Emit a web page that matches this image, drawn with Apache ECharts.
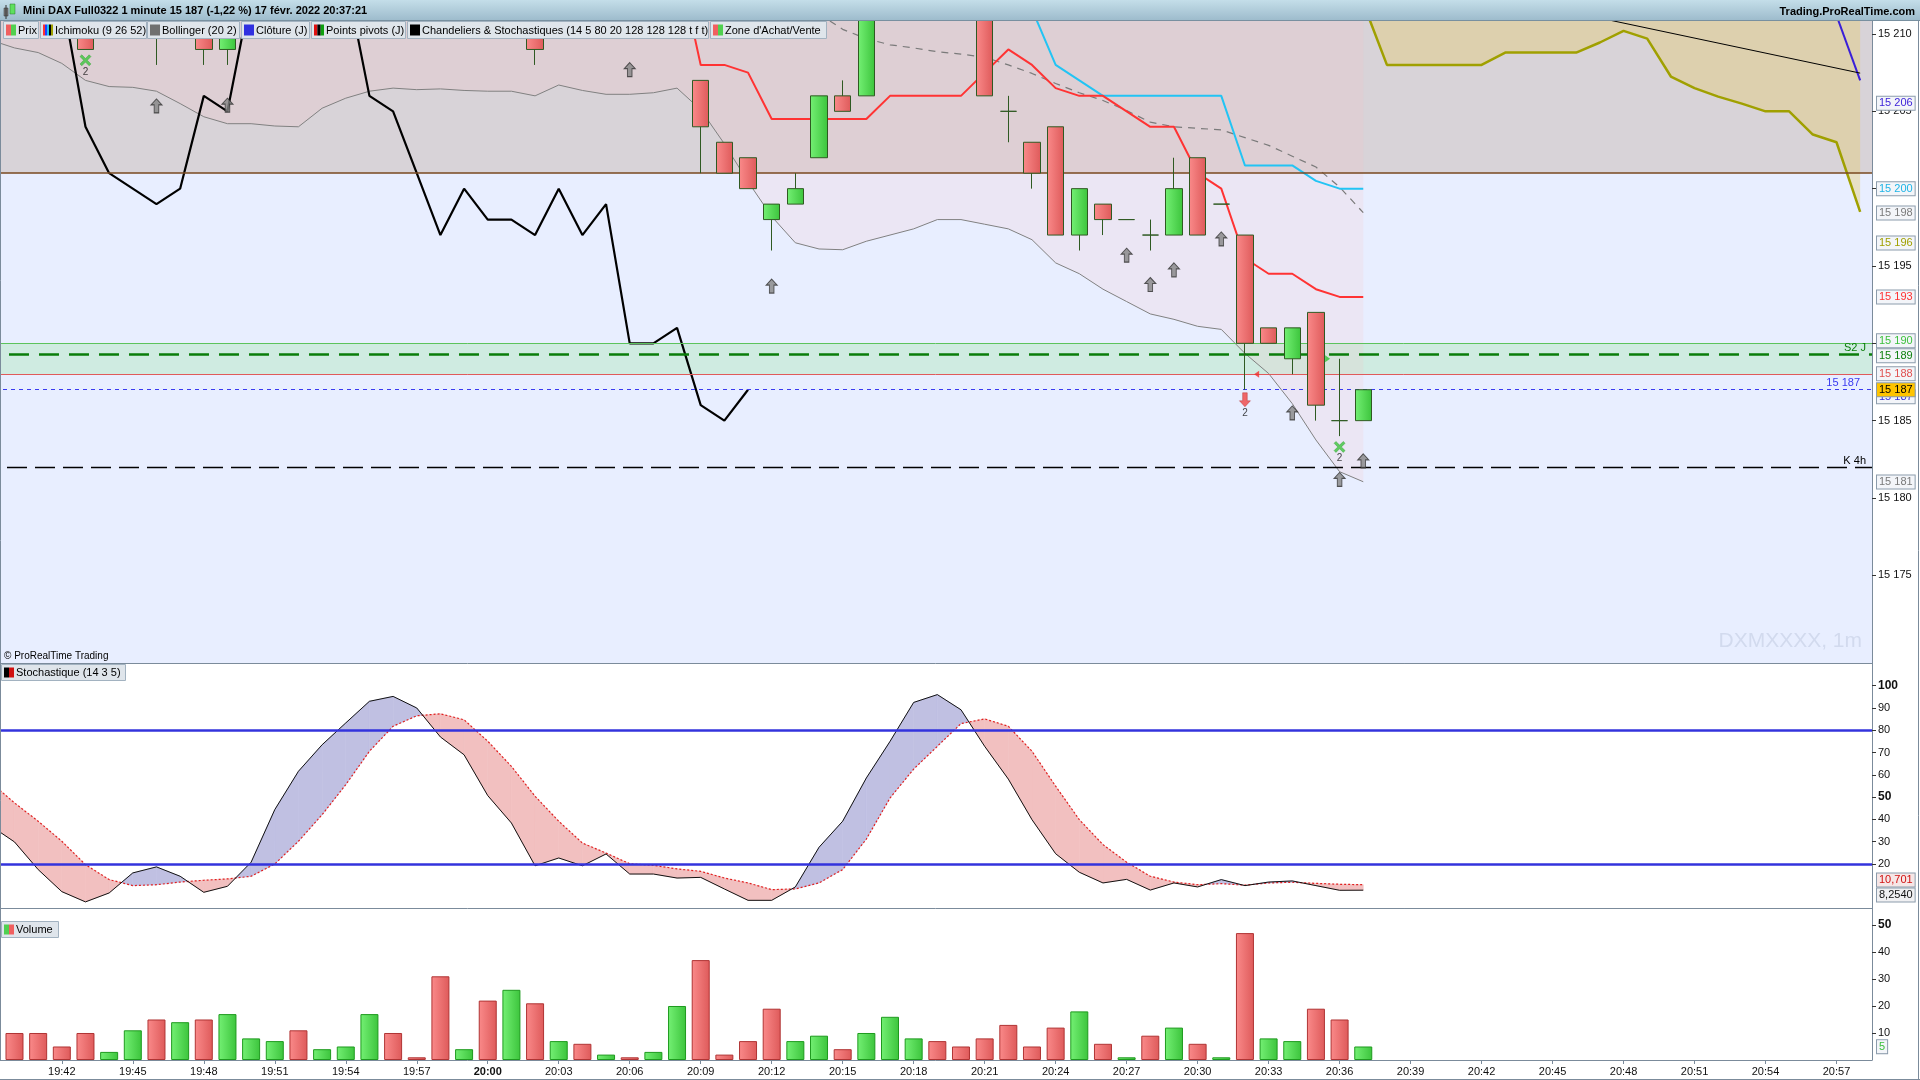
<!DOCTYPE html>
<html><head><meta charset="utf-8">
<script src="https://cdn.jsdelivr.net/npm/echarts@6/dist/echarts.min.js"></script>
<style>html,body{margin:0;padding:0;background:#fff;}#c{width:1920px;height:1080px;}</style>
</head><body><div id="c"></div>
<script>
// ---------- DATA ----------
const categories = ["19:39","19:40","19:41","19:42","19:43","19:44","19:45","19:46","19:47","19:48","19:49","19:50","19:51","19:52","19:53","19:54","19:55","19:56","19:57","19:58","19:59",
"20:00","20:01","20:02","20:03","20:04","20:05","20:06","20:07","20:08","20:09","20:10","20:11","20:12","20:13","20:14","20:15","20:16","20:17","20:18","20:19",
"20:20","20:21","20:22","20:23","20:24","20:25","20:26","20:27","20:28","20:29","20:30","20:31","20:32","20:33","20:34","20:35","20:36","20:37","20:38","20:39",
"20:40","20:41","20:42","20:43","20:44","20:45","20:46","20:47","20:48","20:49","20:50","20:51","20:52","20:53","20:54","20:55","20:56","20:57","20:58"];

// candles from 19:40
const candleStart = "19:40";
const candleOpen  = [15216,15214,15214,15213,15212,15213,15214,15212,15213,15209,15214,15216,15218,15215,15216,15217,15220,15218,15217,15212,15215,15212,15216,15212,15213,15212,15213,15212,15213,15207,15203,15202,15198,15199,15202,15206,15206,15213,15215,15216,15214,15213,15205,15203,15204,15197,15199,15198,15197,15197,15202,15199,15197,15191,15189,15192,15185,15185];
const candleClose = [15214,15212,15212,15209,15213,15215,15212,15214,15209,15214,15216,15218,15215,15216,15217,15220,15218,15217,15212,15213,15212,15216,15209,15213,15212,15213,15212,15213,15215,15204,15201,15200,15199,15200,15206,15205,15213,15215,15216,15214,15213,15206,15205,15201,15197,15200,15198,15198,15197,15200,15197,15199,15190,15190,15191,15186,15185,15187];
const candleLow   = [15213,15212,15212,15209,15212,15212,15208,15212,15208,15208,15213,15215,15214,15214,15215,15216,15217,15216,15212,15212,15212,15212,15208,15212,15212,15212,15212,15212,15212,15201,15201,15200,15196,15199,15202,15205,15206,15212,15214,15213,15212,15206,15203,15200,15197,15196,15197,15198,15196,15197,15197,15199,15187,15190,15188,15185,15184,15185];
const candleHigh  = [15217,15215,15214,15214,15214,15216,15215,15215,15214,15215,15217,15219,15219,15217,15218,15221,15221,15219,15218,15214,15216,15217,15217,15214,15214,15213,15213,15214,15216,15207,15203,15202,15199,15201,15206,15207,15214,15216,15217,15217,15215,15214,15206,15203,15204,15200,15199,15198,15198,15202,15202,15199,15197,15191,15191,15192,15189,15187];

const volumeStart = "19:40";
const volumes = [10,10,5,10,3,11,15,14,15,17,8,7,11,4,5,17,10,1,31,4,22,26,21,7,6,2,1,3,20,37,2,7,19,7,9,4,10,16,8,7,5,8,13,5,12,18,6,1,9,12,6,1,47,8,7,19,15,5];
const volumeDir = ['d','d','d','d','u','u','d','u','d','u','u','u','d','u','u','u','d','d','d','u','d','u','d','u','d','u','d','u','u','d','d','d','d','u','u','d','u','u','u','d','d','d','d','d','d','u','d','u','d','u','d','u','d','u','u','d','d','u'];

const chandelierStart = "19:42";
const chandelier = [15212.5,15204,15201,15200,15199,15200,15206,15205,15212.8,15215,15216,15215,15213.7,15206,15205,15201,15197,15200,15198,15198,15197,15200,15197,15199,15190,15190,15191,15186,15185,15187];

const tenkanStart = "20:08";
const tenkanRed = [15215,15208,15208,15207.5,15204.5,15204.5,15204.5,15204.5,15204.5,15206,15206,15206,15206,15207.5,15209,15208,15206.5,15206,15206,15205,15204,15204,15201,15200,15195.5,15194.5,15194.5,15193.5,15193,15193];

const kijunStart = "20:23";
const kijunCyan = [15211.6,15208,15207,15206,15206,15206,15206,15206,15206,15201.5,15201.5,15201.5,15200.5,15200,15200];

const bbMidStart = "20:14";
const bbMiddle = [15211.3,15210.3,15209.7,15209.3,15209.1,15208.85,15208.7,15208.5,15208.0,15207.45,15206.8,15206.2,15205.7,15205.05,15204.3,15204.0,15203.9,15203.8,15203.3,15202.8,15202.1,15201.4,15200.1,15198.45];

const bbLowStart = "19:39";
const bbLower = [15209.6,15209.1,15208.8,15208.1,15207.0,15206.6,15206.55,15206.3,15205.5,15204.65,15204.2,15204.2,15204.05,15204.0,15205.2,15205.85,15206.3,15206.5,15206.4,15206.45,15206.35,15206.3,15206.3,15206.0,15206.7,15206.35,15206.1,15206.1,15206.2,15206.5,15205.1,15202.9,15200.45,15198.2,15196.5,15196.1,15196.05,15196.6,15197.0,15197.4,15198.0,15198.0,15197.7,15197.4,15196.7,15195.2,15194.5,15193.5,15192.7,15191.9,15191.55,15191.1,15190.9,15189.35,15188.05,15186.1,15183.75,15181.7,15181.05];

const senkouStart = "20:37";
const senkouOlive = [15212,15208,15208,15208,15208,15208,15208.8,15208.8,15208.8,15208.8,15209.45,15210.2,15209.7,15207.25,15206.5,15205.95,15205.5,15205.0,15205.0,15203.5,15203.0,15198.5];

const closeJStart = "20:57";
const closeJ = [15211.2,15207.0];

const trendStart = "20:47";
const trendLine = [15211.03,null,null,null,null,null,null,null,null,null,null,15207.47];

const stochStart = "19:39";
const stochK = [37.1,29.9,17.5,7.6,3.0,7.0,16.0,18.7,14.5,7.3,10.0,20.8,44.4,61.6,73.5,83.3,93.0,95.2,90.0,77.0,69.0,50.7,38.4,19.2,22.7,19.2,24.5,15.5,15.5,13.7,14.0,8.8,3.7,3.7,9.7,27.5,39.2,58.6,75.0,92.5,96.0,89.2,72.8,58.1,39.9,24.6,16.3,11.5,13.1,8.3,11.5,9.7,13.0,10.3,11.9,12.4,10.3,8.2,8.25];
const stochD = [56.6,47.4,39.2,30.2,19.7,13.0,10.3,10.7,11.9,12.7,13.3,14.5,20.0,30.2,42.1,55.6,70.6,81.8,86.5,87.4,84.7,75.1,63.8,50.4,39.2,29.4,24.9,20.1,19.4,17.8,16.7,13.7,11.5,8.5,8.8,11.5,17.5,31.2,49.6,62.6,72.8,83.0,85.1,81.8,70.6,54.9,39.9,28.7,20.8,14.5,11.9,10.7,11.2,10.5,11.5,11.8,11.3,10.9,10.7];
const stochLevels = [80, 20];

const upArrows = [["19:46",15205.35],["19:49",15205.4],["20:06",15207.7],["20:12",15193.7],["20:27",15195.7],["20:28",15193.8],["20:29",15194.75],["20:31",15196.75],["20:34",15185.5],["20:36",15181.2],["20:37",15182.4]];
const buyCrosses = [["19:43",15208.3],["20:36",15183.3]];
const sellArrows = [["20:32",15186.35]];
const smallRedTri = [["20:33",15188]];
const smallGreenTri = [["20:36",15189]];

const priceMin = 15169.33, priceMax = 15210.84;
const cloudBase = 15201;
const zoneTop = 15190, zoneBottom = 15188;
const pivotS2 = 15189.3, dailyClose = 15187, k4h = 15182;

const priceTicks = [15175,15180,15185,15190,15195,15200,15205,15210];
const stochTicks = [20,30,40,50,60,70,80,90,100];
const volTicks = [10,20,30,40,50];

const priceTagValues = [15205.52,15200,15198.43,15196.49,15193.0,15190.17,15189.19,15188.03,15186.55,15181.04];
const priceTagTexts  = ["15 206","15 200","15 198","15 196","15 193","15 190","15 189","15 188","15 187","15 181"];
const lastPrice = 15186.99, lastPriceText = "15 187";
const stochTagValues = [12.82, 6.09], stochTagTexts = ["10,701","8,2540"];
const volTagValue = 4.93, volTagText = "5";

// ---------- HELPERS ----------
function place(values, start){
  const arr = new Array(categories.length).fill(null);
  const s = categories.indexOf(start);
  values.forEach((v,j)=>{ arr[s+j] = v; });
  return arr;
}
const FONT = 'Liberation Sans, Arial, sans-serif';
const fmtPrice = v => String(v).replace(/\B(?=(\d{3})+(?!\d))/g,' ');
const grad = (a,b)=>({type:'linear',x:0,y:0,x2:1,y2:0,colorStops:[{offset:0,color:a},{offset:1,color:b}]});
const RED_FILL = grad('#fa8a8a','#de5a5a'), GREEN_FILL = grad('#74f074','#3cc43c');

const cStart = categories.indexOf(candleStart);
const candleData = categories.map((c,k)=>{
  const i = k - cStart;
  if (i < 0 || i >= candleOpen.length) return '-';
  return [candleOpen[i], candleClose[i], candleLow[i], candleHigh[i]];
});
const vStart = categories.indexOf(volumeStart);
const volData = categories.map((c,k)=>{
  const i = k - vStart;
  if (i < 0 || i >= volumes.length) return null;
  const up = volumeDir[i] === 'u';
  return {value: volumes[i], itemStyle:{color: up?GREEN_FILL:RED_FILL, borderColor: up?'#1e9a1e':'#b03434', borderWidth:1}};
});
const kFull = place(stochK, stochStart), dFull = place(stochD, stochStart);
const fillData = [];
for (let k=0;k<categories.length-1;k++){
  if (kFull[k]!=null && kFull[k+1]!=null) fillData.push([k,kFull[k],dFull[k],kFull[k+1],dFull[k+1]]);
}

const tagColors = ['#3a1fd8','#1fb4e6','#7a7a7a','#a0a000','#ff3030','#3cc03c','#0e800e','#e05050','#3030e0','#7a7a7a'];
function tag(v, text, color, bg){
  return {yAxis:v, lineStyle:{color:'rgba(0,0,0,0)', width:1}, label:{show:true, position:'end', distance:5, formatter:text, color:color, fontSize:11, fontFamily:FONT,
    backgroundColor:bg||'#f3f5f9', borderColor:'#8c9cac', borderWidth:1, padding:[1,2,0,2], lineHeight:12}};
}
const nulls = new Array(categories.length).fill(null);

const upArrowPath = 'path://M6,0 L12,6 L8.5,6 L8.5,14 L3.5,14 L3.5,6 L0,6 Z';
const downArrowPath = 'path://M3.5,0 L8.5,0 L8.5,8 L12,8 L6,14 L0,8 L3.5,8 Z';
const crossPath = 'path://M2,0 L6,4 L10,0 L12,2 L8,6 L12,10 L10,12 L6,8 L2,12 L0,10 L4,6 L0,2 Z';

const labelInterval = (index, value) => index > 0 && (parseInt(value.slice(3),10) % 3 === 0);

// ---------- OPTION ----------
const gridCommon = {left:-21, right:48, show:true, borderWidth:0, outerBoundsMode:'none'};
const option = {
  animation:false,
  backgroundColor:'#ffffff',
  textStyle:{fontFamily:FONT},
  grid:[
    Object.assign({top:21, height:642, backgroundColor:'#e8eeff'}, gridCommon),
    Object.assign({top:663, height:257, backgroundColor:'#ffffff'}, gridCommon),
    Object.assign({top:920, height:140, backgroundColor:'#ffffff'}, gridCommon)
  ],
  xAxis:[0,1,2].map(g=>({
    type:'category', gridIndex:g, data:categories, boundaryGap:true,
    axisLine:{show:true, lineStyle:{color:'#7b8b9b', width:1}},
    axisTick:{show:g===2, interval:labelInterval, alignWithLabel:true, length:4, lineStyle:{color:'#7b8b9b'}},
    axisLabel:{show:g===2, interval:labelInterval, fontSize:11, color:'#111', margin:6, fontFamily:FONT,
      formatter: v => v==='20:00' ? '{b|20:00}' : v, rich:{b:{fontWeight:'bold', fontSize:11, fontFamily:FONT}}},
    splitLine:{show:false}
  })),
  yAxis:[
    {type:'value', gridIndex:0, position:'right', min:priceMin, max:priceMax, scale:true,
      axisLine:{show:true, lineStyle:{color:'#7b8b9b'}},
      axisTick:{show:true, length:4, customValues:priceTicks, lineStyle:{color:'#333'}},
      axisLabel:{show:true, customValues:priceTicks, formatter: v=>fmtPrice(v), fontSize:11, color:'#111', margin:6, fontFamily:FONT},
      splitLine:{show:false}},
    {type:'value', gridIndex:1, position:'right', min:-5.13, max:110.19,
      axisLine:{show:true, lineStyle:{color:'#7b8b9b'}},
      axisTick:{show:true, length:4, customValues:stochTicks, lineStyle:{color:'#333'}},
      axisLabel:{show:true, customValues:stochTicks, fontSize:11, color:'#111', margin:6, fontFamily:FONT,
        formatter: v => (v===100||v===50) ? '{b|'+v+'}' : String(v), rich:{b:{fontWeight:'bold', fontSize:12, fontFamily:FONT}}},
      splitLine:{show:false}},
    {type:'value', gridIndex:2, position:'right', min:0, max:51.85,
      axisLine:{show:true, lineStyle:{color:'#7b8b9b'}},
      axisTick:{show:true, length:4, customValues:volTicks, lineStyle:{color:'#333'}},
      axisLabel:{show:true, customValues:volTicks, fontSize:11, color:'#111', margin:6, fontFamily:FONT,
        formatter: v => v===50 ? '{b|50}' : String(v), rich:{b:{fontWeight:'bold', fontSize:12, fontFamily:FONT}}},
      splitLine:{show:false}}
  ],
  series:[
    // Ichimoku grey cloud
    {type:'line', name:'cloud', xAxisIndex:0, yAxisIndex:0, data:nulls, z:1, silent:true, symbol:'none',
      markArea:{silent:true, itemStyle:{color:'#d8d3d8'}, data:[[{yAxis:cloudBase},{yAxis:priceMax}]]}},
    // Bollinger fill (from lower band up)
    {type:'line', name:'bbFill', xAxisIndex:0, yAxisIndex:0, data:place(bbLower,bbLowStart), z:2, silent:true, symbol:'none',
      lineStyle:{width:0, opacity:0}, areaStyle:{origin:'end', color:'rgba(250,190,195,0.25)'}},
    // future cloud (senkou)
    {type:'line', name:'senkou', xAxisIndex:0, yAxisIndex:0, data:place(senkouOlive,senkouStart), z:3, silent:true, symbol:'none', clip:true,
      lineStyle:{width:2.5, color:'#a0a000'}, areaStyle:{origin:'end', color:'rgba(229,206,116,0.6)'}},
    // buy/sell zone
    {type:'line', name:'zone', xAxisIndex:0, yAxisIndex:0, data:nulls, z:3, silent:true, symbol:'none',
      markArea:{silent:true, itemStyle:{color:'#cfebe1'}, data:[[{yAxis:zoneBottom},{yAxis:zoneTop}]]},
      markLine:{silent:true, symbol:['none','none'], label:{show:false}, data:[
        {yAxis:zoneTop, lineStyle:{color:'#5cc35c', width:1, type:'solid'}},
        {yAxis:zoneBottom, lineStyle:{color:'#e05a5a', width:1, type:'solid'}},
        {yAxis:cloudBase, lineStyle:{color:'#7a4a20', width:1.5, type:'solid'}}
      ]}},
    // lines
    {type:'line', name:'bbLower', xAxisIndex:0, yAxisIndex:0, data:place(bbLower,bbLowStart), z:4, silent:true, symbol:'none', clip:true,
      lineStyle:{width:1, color:'#808080'}},
    {type:'line', name:'bbMiddle', xAxisIndex:0, yAxisIndex:0, data:place(bbMiddle,bbMidStart), z:4, silent:true, symbol:'none', clip:true,
      lineStyle:{width:1.2, color:'#7a7a7a', type:[7,6]}},
    {type:'line', name:'kijun', xAxisIndex:0, yAxisIndex:0, data:place(kijunCyan,kijunStart), z:4, silent:true, symbol:'none', clip:true,
      lineStyle:{width:2, color:'#22c4f4'}},
    {type:'line', name:'tenkan', xAxisIndex:0, yAxisIndex:0, data:place(tenkanRed,tenkanStart), z:4, silent:true, symbol:'none', clip:true,
      lineStyle:{width:2, color:'#ff3333'}},
    {type:'line', name:'chandelier', xAxisIndex:0, yAxisIndex:0, data:place(chandelier,chandelierStart), z:4, silent:true, symbol:'none', clip:true,
      lineStyle:{width:2.2, color:'#000'}},
    {type:'line', name:'closeJ', xAxisIndex:0, yAxisIndex:0, data:place(closeJ,closeJStart), z:4, silent:true, symbol:'none', clip:true,
      lineStyle:{width:2, color:'#3a1fd8'}},
    {type:'line', name:'trend', xAxisIndex:0, yAxisIndex:0, data:place(trendLine,trendStart), z:4, silent:true, symbol:'none', clip:true, connectNulls:true,
      lineStyle:{width:1, color:'#000'}},
    // candles
    {type:'candlestick', name:'Prix', xAxisIndex:0, yAxisIndex:0, data:candleData, z:5, silent:true, clip:true, barWidth:17,
      itemStyle:{color:GREEN_FILL, color0:RED_FILL, borderColor:'#2f5a22', borderColor0:'#2f5a22', borderColorDoji:'#2f5a22', borderWidth:1},
      markLine:{silent:true, symbol:['none','none'], data:[ tag(priceTagValues[8], priceTagTexts[8], tagColors[8]) ]}},
    // level lines above candles
    {type:'line', name:'levels', xAxisIndex:0, yAxisIndex:0, data:nulls, z:6, silent:true, symbol:'none',
      markLine:{silent:true, symbol:['none','none'], data:[
        {yAxis:pivotS2, lineStyle:{color:'#0a7d0a', width:2.5, type:[20,10]},
          label:{show:true, position:'insideEndTop', formatter:'S2 J', color:'#0a7d0a', fontSize:11, fontFamily:FONT, distance:[6,1]}},
        {yAxis:dailyClose, lineStyle:{color:'#3a3af0', width:1, type:[4,4]},
          label:{show:true, position:'insideEndTop', formatter:'15 187', color:'#3a3af0', fontSize:11, fontFamily:FONT, distance:[12,1]}},
        {yAxis:k4h, lineStyle:{color:'#000', width:1.3, type:[20,8]},
          label:{show:true, position:'insideEndTop', formatter:'K 4h', color:'#000', fontSize:11, fontFamily:FONT, distance:[6,1]}}
      ]}},
    // markers
    {type:'scatter', name:'up', xAxisIndex:0, yAxisIndex:0, data:upArrows, z:7, silent:true, symbol:upArrowPath, symbolSize:[11,14],
      itemStyle:{color:'#858585', borderColor:'#333', borderWidth:1}},
    {type:'scatter', name:'buy', xAxisIndex:0, yAxisIndex:0, data:buyCrosses, z:7, silent:true, symbol:crossPath, symbolSize:[11,11],
      itemStyle:{color:'#3cc43c', borderColor:'#2a9a2a', borderWidth:0.5},
      label:{show:true, position:'bottom', distance:1, formatter:'2', color:'#111', fontSize:10, fontFamily:FONT}},
    {type:'scatter', name:'sell', xAxisIndex:0, yAxisIndex:0, data:sellArrows, z:7, silent:true, symbol:downArrowPath, symbolSize:[11,14],
      itemStyle:{color:'#f04444', borderColor:'#b02020', borderWidth:0.5},
      label:{show:true, position:'bottom', distance:1, formatter:'2', color:'#111', fontSize:10, fontFamily:FONT}},
    {type:'scatter', name:'triR', xAxisIndex:0, yAxisIndex:0, data:smallRedTri, z:7, silent:true, symbol:'triangle', symbolRotate:90, symbolSize:[7,5], symbolOffset:[-12,0],
      itemStyle:{color:'#f03030'}},
    {type:'scatter', name:'triG', xAxisIndex:0, yAxisIndex:0, data:smallGreenTri, z:7, silent:true, symbol:'triangle', symbolRotate:-90, symbolSize:[7,5], symbolOffset:[-12,0],
      itemStyle:{color:'#30c030'},
      markLine:{silent:true, symbol:['none','none'], data: priceTagValues.map((v,j)=> j===8 ? null : tag(v, priceTagTexts[j], tagColors[j])).filter(Boolean)
        .concat([tag(lastPrice, lastPriceText, '#000', '#ffc400')])}},
    // stochastic fill
    {type:'custom', name:'stochFill', xAxisIndex:1, yAxisIndex:1, data:fillData, z:1, silent:true, clip:true,
      encode:{x:0, y:[1,2]},
      renderItem:function(params, api){
        const k = api.value(0);
        const k1=api.value(1), d1v=api.value(2), k2=api.value(3), d2v=api.value(4);
        const a1 = api.coord([k, k1]), b1 = api.coord([k, d1v]);
        const a2 = api.coord([k+1, k2]), b2 = api.coord([k+1, d2v]);
        const d1 = k1-d1v, d2 = k2-d2v;
        const blue='#c0c0e2', pink='#f2c0c0';
        const ch=[];
        if (d1*d2 >= 0){
          const c = (d1+d2)>=0 ? blue : pink;
          ch.push({type:'polygon', shape:{points:[a1,a2,b2,b1]}, style:{fill:c, stroke:c, lineWidth:0.6}});
        } else {
          const t = d1/(d1-d2);
          const p = [a1[0]+t*(a2[0]-a1[0]), a1[1]+t*(a2[1]-a1[1])];
          const c1 = d1>0?blue:pink, c2 = d2>0?blue:pink;
          ch.push({type:'polygon', shape:{points:[a1,p,b1]}, style:{fill:c1, stroke:c1, lineWidth:0.6}});
          ch.push({type:'polygon', shape:{points:[p,a2,b2]}, style:{fill:c2, stroke:c2, lineWidth:0.6}});
        }
        return {type:'group', children:ch};
      }},
    {type:'line', name:'%D', xAxisIndex:1, yAxisIndex:1, data:dFull, z:3, silent:true, symbol:'none',
      lineStyle:{width:1.2, color:'#e02020', type:[2,2]}},
    {type:'line', name:'%K', xAxisIndex:1, yAxisIndex:1, data:kFull, z:4, silent:true, symbol:'none',
      lineStyle:{width:1, color:'#111'},
      markLine:{silent:true, symbol:['none','none'], data:[
        {yAxis:stochLevels[0], lineStyle:{color:'#3333dd', width:2.5, type:'solid'}, label:{show:false}},
        {yAxis:stochLevels[1], lineStyle:{color:'#3333dd', width:2.5, type:'solid'}, label:{show:false}},
        tag(stochTagValues[0], stochTagTexts[0], '#d01010', '#f6e6e6'),
        tag(stochTagValues[1], stochTagTexts[1], '#111', '#f0f0f2')
      ]}},
    // volume
    {type:'bar', name:'Volume', xAxisIndex:2, yAxisIndex:2, data:volData, barWidth:18, z:2, silent:true,
      markLine:{silent:true, symbol:['none','none'], data:[ tag(volTagValue, volTagText, '#3cc03c', '#f3f5f9') ]}}
  ],
  graphic:[]
};

// ---------- CHROME (title, legends) ----------
const G = [];
G.push({type:'rect', z:100, shape:{x:0,y:0,width:1920,height:21}, style:{fill:{type:'linear',x:0,y:0,x2:0,y2:1,colorStops:[{offset:0,color:'#c4dee9'},{offset:1,color:'#9cbacb'}]}}});
G.push({type:'line', z:100, shape:{x1:0,y1:20.5,x2:1920,y2:20.5}, style:{stroke:'#7890a0', lineWidth:1}});
G.push({type:'rect', z:101, shape:{x:4,y:8,width:4,height:8}, style:{fill:'#7a7a7a', stroke:'#333', lineWidth:0.5}});
G.push({type:'line', z:101, shape:{x1:6,y1:5,x2:6,y2:19}, style:{stroke:'#333', lineWidth:1}});
G.push({type:'rect', z:101, shape:{x:10,y:4,width:5,height:10}, style:{fill:'#5ee05e', stroke:'#2a7a2a', lineWidth:0.5}});
G.push({type:'text', z:101, x:23, y:11, style:{text:'Mini DAX Full0322 1 minute 15 187 (-1,22 %) 17 févr. 2022 20:37:21', font:'bold 11px '+FONT, fill:'#000', verticalAlign:'middle'}});
G.push({type:'text', z:101, x:1915, y:12, style:{text:'Trading.ProRealTime.com', font:'bold 11px '+FONT, fill:'#000', align:'right', verticalAlign:'middle'}});

const legendItems = [
  {x:3,w:35,t:'Prix',icon:['#f06060','#50d050']},
  {x:40,w:106,t:'Ichimoku (9 26 52)',icon:['#ff3030','#2040ff','#20c0f0','#000','#a0a000']},
  {x:147,w:92,t:'Bollinger (20 2)',icon:['#707070']},
  {x:241,w:68,t:'Clôture (J)',icon:['#3030e0']},
  {x:311,w:94,t:'Points pivots (J)',icon:['#e01010','#000','#10a010']},
  {x:407,w:301,t:"Chandeliers & Stochastiques (14 5 80 20 128 128 128 t f t)",icon:['#000']},
  {x:710,w:116,t:"Zone d'Achat/Vente",icon:['#f06060','#50d050']}
];
function legendBox(item, y, h){
  G.push({type:'rect', z:100, shape:{x:item.x+0.5,y:y+0.5,width:item.w,height:h}, style:{fill:'#dfe5eb', stroke:'#a2b2c0', lineWidth:1}});
  const n=item.icon.length, iw=10/n;
  item.icon.forEach((c,j)=>G.push({type:'rect', z:101, shape:{x:item.x+3+j*iw,y:y+3.5,width:iw,height:h-6}, style:{fill:c}}));
  G.push({type:'text', z:101, x:item.x+15, y:y+h/2+1, style:{text:item.t, font:'11px '+FONT, fill:'#000', verticalAlign:'middle'}});
}
legendItems.forEach(it=>legendBox(it, 21, 17));
legendBox({x:1,w:124,t:'Stochastique (14 3 5)',icon:['#000','#d01010']}, 664, 16);
legendBox({x:1,w:57,t:'Volume',icon:['#50d050','#f06060']}, 921, 16);
G.push({type:'text', z:100, x:4, y:656, style:{text:'© ProRealTime Trading', font:'10px '+FONT, fill:'#000', verticalAlign:'middle'}});
G.push({type:'text', z:100, x:1862, y:641, style:{text:'DXMXXXX, 1m', font:'21px '+FONT, fill:'#d2daee', align:'right', verticalAlign:'middle'}});
G.push({type:'line', z:100, shape:{x1:0.5,y1:21,x2:0.5,y2:1060}, style:{stroke:'#7b8b9b', lineWidth:1}});
G.push({type:'line', z:100, shape:{x1:1918.5,y1:21,x2:1918.5,y2:1080}, style:{stroke:'#7b8b9b', lineWidth:1}});
G.push({type:'line', z:100, shape:{x1:0,y1:1079.5,x2:1920,y2:1079.5}, style:{stroke:'#7b8b9b', lineWidth:1}});
option.graphic = G;

const chart = echarts.init(document.getElementById('c'), null, {renderer:'canvas', width:1920, height:1080});
chart.setOption(option);
</script>
</body></html>
